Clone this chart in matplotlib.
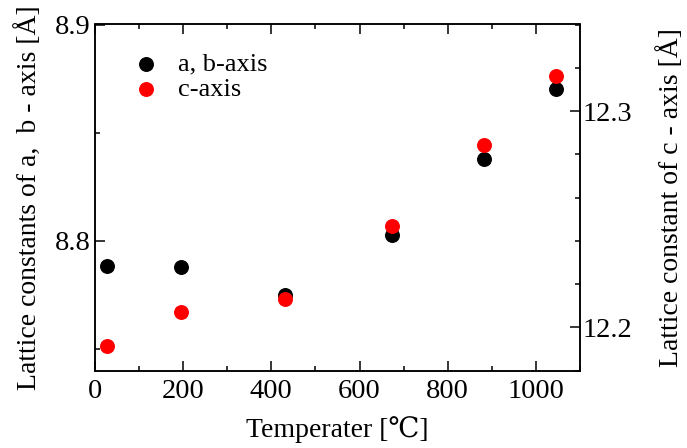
import matplotlib
matplotlib.use("Agg")
import matplotlib.pyplot as plt
from matplotlib.ticker import MultipleLocator

plt.rcParams['font.family'] = ['Liberation Serif', 'DejaVu Serif']
plt.rcParams['mathtext.fontset'] = 'stix'

# data
temps = [28, 195, 431, 673, 882, 1045]
ab_axis = [8.7886, 8.7877, 8.7750, 8.8028, 8.8379, 8.8700]
c_axis = [12.1912, 12.2069, 12.2132, 12.2469, 12.2845, 12.3162]

fig = plt.figure(figsize=(6.87, 4.48), dpi=100)
ax = fig.add_axes([95/687, 1 - 370.7/448, 485/687, 346.2/448])
ax2 = ax.twinx()

ax.scatter(temps, ab_axis, s=95, color='black', zorder=3, label='a, b-axis')
ax2.scatter(temps, c_axis, s=95, color='#ff0000', zorder=3, label='c-axis')

ax.set_xlim(0, 1100)
ax.set_ylim(8.74, 8.9)
ax2.set_ylim(12.18, 12.34)

ax.xaxis.set_major_locator(MultipleLocator(200))
ax.xaxis.set_minor_locator(MultipleLocator(100))
ax.yaxis.set_major_locator(MultipleLocator(0.1))
ax.yaxis.set_minor_locator(MultipleLocator(0.05))
ax2.yaxis.set_major_locator(MultipleLocator(0.1))
ax2.yaxis.set_minor_locator(MultipleLocator(0.02))

ax.tick_params(which='both', direction='in', top=True, right=False, labelsize=20.5, width=1.1)
ax.tick_params(which='major', length=7)
ax.tick_params(axis='x', which='major', pad=6)
ax.tick_params(axis='y', which='major', pad=3)
ax.tick_params(which='minor', length=3.5)
ax2.tick_params(which='both', direction='in', labelsize=20.5, width=1.1)
ax2.tick_params(which='major', length=7, pad=2)
ax2.tick_params(which='minor', length=3.5)

for a in (ax, ax2):
    for sp in a.spines.values():
        sp.set_linewidth(1.1)

ax.set_xlabel('Temperater [℃]', fontsize=20, labelpad=9)
ax.set_ylabel('Lattice constants of a,  b - axis [Å]', fontsize=20, labelpad=9)
ax2.set_ylabel('Lattice constant of c - axis [Å]', fontsize=20, labelpad=18)

h1, l1 = ax.get_legend_handles_labels()
h2, l2 = ax2.get_legend_handles_labels()
ax.legend(h1 + h2, l1 + l2, loc='upper left', bbox_to_anchor=(0.03, 0.95),
          frameon=False, fontsize=19, handletextpad=0.2, labelspacing=0.05,
          borderaxespad=0.0)

fig.savefig('out.png', dpi=100)
